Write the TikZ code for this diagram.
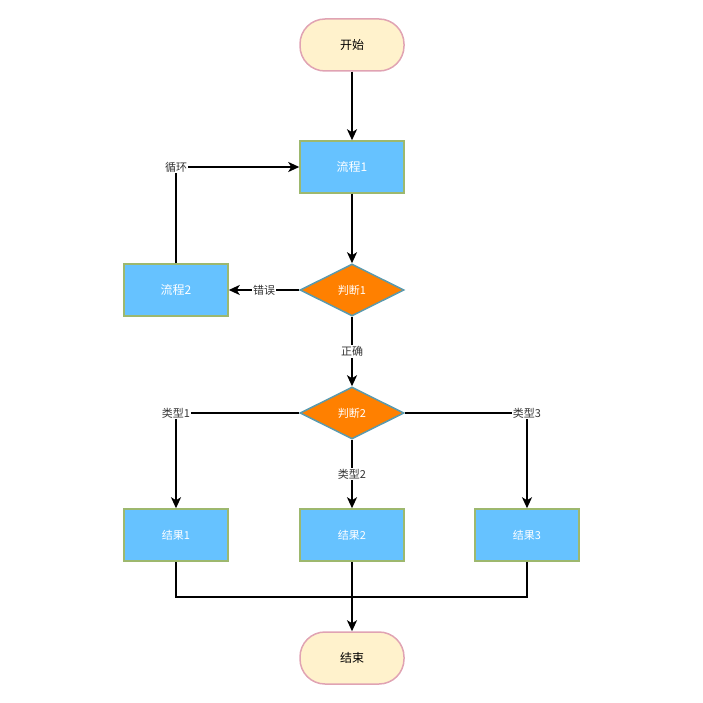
\documentclass[tikz,border=0pt]{standalone}
\usepackage{fontspec}
\setmainfont{Noto Sans CJK SC}
\usetikzlibrary{shapes.geometric,arrows.meta}
\definecolor{termfill}{HTML}{FFF2CC}
\definecolor{termdraw}{HTML}{E0A3B3}
\definecolor{procfill}{HTML}{66C2FF}
\definecolor{procdraw}{HTML}{9DB86E}
\definecolor{decfill}{HTML}{FF8000}
\definecolor{decdraw}{HTML}{5A9AAE}
\begin{document}
\begin{tikzpicture}
        [x=1pt,y=-1pt,line width=1.5pt,
         terminal/.style={draw=termdraw,fill=termfill,rounded corners=25pt,minimum width=104pt,minimum height=52pt,font=\fontsize{12}{14}\selectfont},
         process/.style={draw=procdraw,fill=procfill,text=white,minimum width=104pt,minimum height=52pt,font=\fontsize{12}{14}\selectfont},
         result/.style={process,font=\fontsize{11}{13}\selectfont},
         decision/.style={draw=decdraw,fill=decfill,text=white,shape=diamond,inner sep=0,minimum width=104pt,minimum height=52pt,font=\fontsize{11}{13}\selectfont},
         link/.style={line width=1.8pt},
         flow/.style={link,-{Stealth[length=11pt,width=10pt,inset=3pt]}},
         elabel/.style={fill=white,inner sep=1pt,text=black!80,font=\fontsize{11}{13}\selectfont}]

        \useasboundingbox (0,0) rectangle (703,703);

        \node[terminal] (start) at (352, 45) {开始};
        \node[process] (p1) at (352, 167) {流程1};
        \node[decision] (j1) at (352, 290) {判断1};
        \node[process] (p2) at (176, 290) {流程2};
        \node[decision] (j2) at (352, 413) {判断2};
        \node[result] (r1) at (176, 535) {结果1};
        \node[result] (r2) at (352, 535) {结果2};
        \node[result] (r3) at (527, 535) {结果3};
        \node[terminal] (stop) at (352, 658) {结束};
        \coordinate (merge) at (352, 597);

        \draw[flow] (start) -- (p1);
        \draw[flow] (p1) -- (j1);
        \draw[flow] (j1) -- node[elabel] {错误} (p2);
        \draw[flow] (p2) -- (p2 |- p1) node[elabel] {循环} -- (p1);
        \draw[flow] (j1) -- node[elabel] {正确} (j2);
        \draw[flow] (j2) -- (j2 -| r1) node[elabel] {类型1} -- (r1);
        \draw[flow] (j2) -- node[elabel] {类型2} (r2);
        \draw[flow] (j2) -- (j2 -| r3) node[elabel] {类型3} -- (r3);
        \draw[link] (r1) |- (merge);
        \draw[link] (r3) |- (merge);
        \draw[flow] (r2) -- (stop);
      \end{tikzpicture}
\end{document}
